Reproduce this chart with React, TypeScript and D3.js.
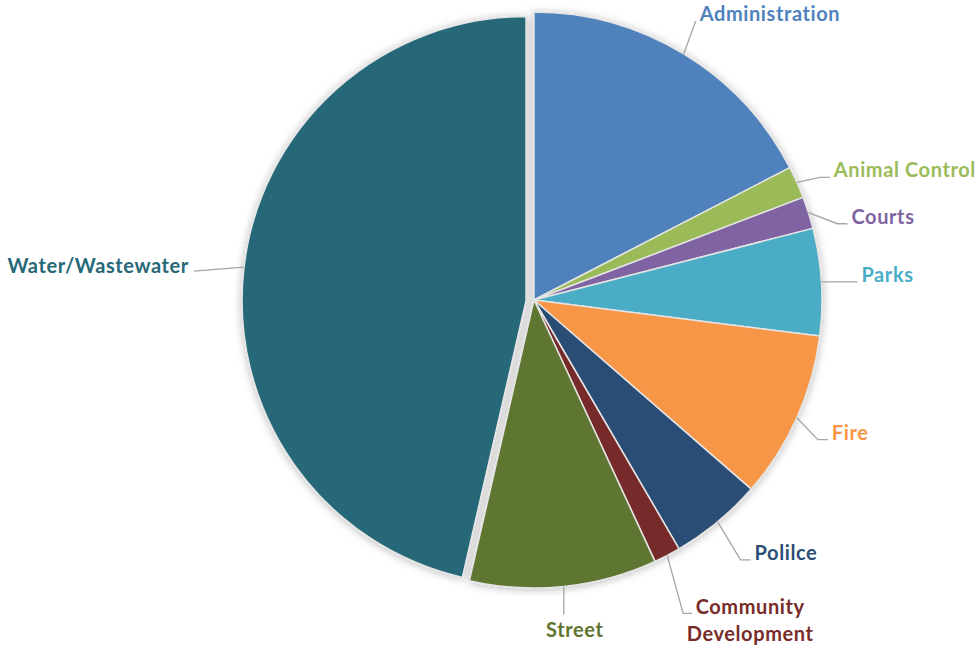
import React, { useEffect } from 'react';
import * as d3 from 'd3';

const categories = [
  'Administration',
  'Animal Control',
  'Courts',
  'Parks',
  'Fire',
  'Polilce',
  'Community Development',
  'Street',
  'Water/Wastewater',
];
const shares = [17.4, 1.8, 1.8, 6.0, 9.4, 5.2, 1.5, 10.5, 46.4];
const colors = ['#4f81bd', '#9bbb59', '#8064a2', '#4bacc6', '#f79646', '#2c4d75', '#772c2a', '#5f7530', '#266878'];
const labelLines = [['Administration'], ['Animal Control'], ['Courts'], ['Parks'], ['Fire'], ['Polilce'], ['Community', 'Development'], ['Street'], ['Water/Wastewater']];

// leader layout: elbow offset from the slice edge, then a short horizontal tail
const layout = [
  { dx: 12, dy: -33, tail: 0, side: 'right' },
  { dx: 23, dy: -5, tail: 10, side: 'right' },
  { dx: 29, dy: 11, tail: 10, side: 'right' },
  { dx: 36, dy: 0, tail: 0, side: 'right' },
  { dx: 21, dy: 22, tail: 10, side: 'right' },
  { dx: 23, dy: 38, tail: 10, side: 'right' },
  { dx: 16, dy: 58, tail: 9, side: 'right' },
  { dx: 0, dy: 28, tail: 0, side: 'below' },
  { dx: -50, dy: 4, tail: 0, side: 'left' },
];
const explode = [0, 0, 0, 0, 0, 0, 0, 0, 8];
const shrink = [0, 0, 0, 0, 0, 0, 0, 0, 4];

const W = 978;
const H = 647;
const cx = 534;
const cy = 300;
const R = 288;

export default function App() {
  useEffect(() => {
    document.body.style.margin = '0';
  }, []);

  const pie = d3.pie<number>().sort(null).value((d) => d);
  const arcs = pie(shares);
  const font = 'Lato, "Open Sans", sans-serif';

  return (
    <svg width={W} height={H} style={{ display: 'block', background: '#fff' }}>
      <defs>
        <filter id="sh" x="-20%" y="-20%" width="140%" height="140%">
          <feDropShadow dx="0" dy="1" stdDeviation="4" floodColor="#000" floodOpacity="0.28" />
        </filter>
      </defs>
      <g transform={`translate(${cx},${cy})`}>
        <g filter="url(#sh)">
          {arcs.map((a, i) => {
            const mid = (a.startAngle + a.endAngle) / 2;
            const ox = Math.sin(mid) * explode[i];
            const oy = -Math.cos(mid) * explode[i] + (explode[i] ? 1.5 : 0);
            const arc = d3.arc<d3.PieArcDatum<number>>().innerRadius(0).outerRadius(R - shrink[i]);
            return (
              <path
                key={i}
                d={arc(a) || ''}
                transform={`translate(${ox},${oy})`}
                fill={colors[i]}
                stroke="#e4e4e4"
                strokeWidth={1.5}
                strokeLinejoin="round"
              />
            );
          })}
        </g>
        {arcs.map((a, i) => {
          const mid = (a.startAngle + a.endAngle) / 2;
          const rr = R + explode[i] - shrink[i];
          const ex = Math.sin(mid) * rr;
          const ey = -Math.cos(mid) * rr;
          const L = layout[i];
          const bx = ex + L.dx;
          const by = ey + L.dy;
          const tx = bx + (L.side === 'left' ? -L.tail : L.tail);
          const pts: [number, number][] = [[ex, ey], [bx, by], [tx, by]];
          let textX = tx + 4;
          let anchor: 'start' | 'middle' | 'end' = 'start';
          let textY = by - 7;
          if (L.side === 'left') {
            textX = tx - 5;
            anchor = 'end';
            textY = by - 5;
          }
          if (L.side === 'below') {
            textX = bx + 11;
            anchor = 'middle';
            textY = by + 16;
          }
          const lines = labelLines[i];
          if (lines.length > 1) {
            textX = tx + 58;
            anchor = 'middle';
            textY = by - 6;
          }
          return (
            <g key={'l' + i}>
              <path d={d3.line()(pts) || ''} fill="none" stroke="#a6a6a6" strokeWidth={1.3} />
              <text
                x={textX}
                y={textY}
                textAnchor={anchor}
                fill={colors[i]}
                fontFamily={font}
                fontWeight={700}
                fontSize={20}
                letterSpacing={0.6}
              >
                {lines.map((ln, j) => (
                  <tspan key={j} x={textX} dy={j === 0 ? '0.35em' : 27}>
                    {ln}
                  </tspan>
                ))}
              </text>
            </g>
          );
        })}
      </g>
    </svg>
  );
}
